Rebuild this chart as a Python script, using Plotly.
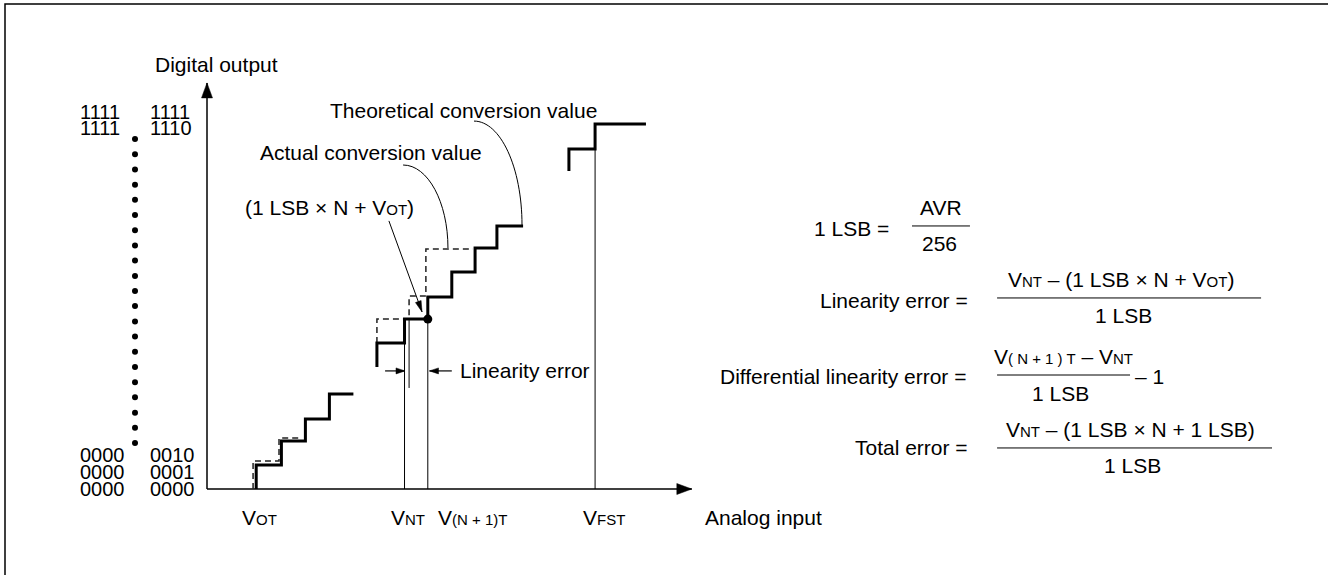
import math
import plotly.graph_objects as go

# ---------------- data: analog input in LSB units, digital output in code units ----------------
# thick solid staircase pieces (actual conversion characteristic)
actual_low_x = [2.05, 2.05, 3.1, 3.1, 4.1, 4.1, 5.1, 5.1, 6.1]
actual_low_y = [0, 1.0, 1.0, 2.0, 2.0, 2.92, 2.92, 3.96, 3.96]
actual_mid_x = [7.08, 7.08, 8.23, 8.23, 9.2, 9.2, 10.2, 10.2, 11.17, 11.17, 12.08, 12.08, 13.17]
actual_mid_y = [5.08, 6.08, 6.08, 7.08, 7.08, 8.0, 8.0, 9.04, 9.04, 10.04, 10.04, 10.96, 10.96]
actual_top_x = [15.08, 15.08, 16.17, 16.17, 18.29]
actual_top_y = [13.25, 14.17, 14.17, 15.21, 15.21]

# dashed staircase pieces (theoretical characteristic)
theo_low_x = [1.92, 1.92, 3.0, 3.0, 3.8]
theo_low_y = [0, 1.17, 1.17, 2.12, 2.12]
theo_mid_x = [7.08, 7.08, 8.42, 8.42, 9.12, 9.12, 11.08]
theo_mid_y = [6.08, 7.08, 7.08, 8.04, 8.04, 10.0, 10.0]

# thin reference lines: V_NT, V_(N+1)T, V_FST (from axis up to the step)
ref_line_x = [8.23, 9.2, 16.17]
ref_line_top = [7.08, 7.08, 14.17]
ext_line_x = 8.42
ext_line_y = [7.08, 4.21]

point_N = (9.2, 7.08)                 # (1 LSB x N + V_OT)
lin_err_y = 4.92
lin_err_left = (7.42, 8.25)           # tail, tip
lin_err_right = (10.2, 9.27)          # tail, tip
leader_tail = (7.58, 11.17)
leader_tip = (8.96, 7.38)
actual_leader = [(8.17, 13.5), (10.04, 10.04)]
theo_leader = [(11.125, 15.33), (13.125, 11.0)]

y_axis_top = 16.92
x_axis_end = 20.2

# output code labels (left and right column) and their rows
code_left = ["1111", "1111", "0000", "0000", "0000"]
code_right = ["1111", "1110", "0010", "0001", "0000"]
code_row_y = [15.71, 15.04, 1.42, 0.71, 0.0]
ellipsis_x = -3.0
ellipsis_y = [14.58, 13.95, 13.31, 12.68, 12.05, 11.42, 10.78, 10.15, 9.52, 8.88, 8.25,
              7.62, 6.98, 6.35, 5.72, 5.08, 4.45, 3.82, 3.18, 2.55, 1.92]

x_tick_labels = ["V<sub>OT</sub>", "V<sub>NT</sub>", "V<sub>(N + 1)T</sub>", "V<sub>FST</sub>"]
x_tick_label_x = [1.375, 7.6, 9.54, 15.6]

# formula block
frac_bar_x0 = [29.375, 32.92, 32.92, 32.92]
frac_bar_x1 = [31.79, 43.92, 38.46, 44.375]
frac_bar_y = [10.96, 7.96, 4.75, 1.71]

# ---------------- layout constants ----------------
W, H = 1328, 575
ORIGIN = (207, 489)       # pixel of axis origin
PX = 24.0                 # pixels per unit (both axes)
FONT = "Liberation Sans, Arial, Helvetica, sans-serif"
FS = 21
SUBFS = 15


def sub(s):
    return f'<span style="font-size:{SUBFS}px">{s}</span>'


def fix_sub(t):
    return t.replace("<sub>", f'<span style="font-size:{SUBFS}px">').replace("</sub>", "</span>")


fig = go.Figure()


def line(xs, ys, width=1.0, dash=None, color="black"):
    fig.add_trace(go.Scatter(x=xs, y=ys, mode="lines", hoverinfo="skip",
                             line=dict(color=color, width=width, dash=dash),
                             showlegend=False))


def arrowhead(tail, tip, length, width):
    dx, dy = tip[0] - tail[0], tip[1] - tail[1]
    n = math.hypot(dx, dy)
    ux, uy = dx / n, dy / n
    L, Wd = length / PX, width / PX / 2
    bx, by = tip[0] - ux * L, tip[1] - uy * L
    px_, py_ = -uy, ux
    xs = [tip[0], bx + px_ * Wd, bx - px_ * Wd, tip[0]]
    ys = [tip[1], by + py_ * Wd, by - py_ * Wd, tip[1]]
    fig.add_trace(go.Scatter(x=xs, y=ys, mode="lines", fill="toself", fillcolor="black",
                             line=dict(color="black", width=0.5), hoverinfo="skip",
                             showlegend=False))


def arrow(tail, tip, lw=1.0, length=9, width=6):
    line([tail[0], tip[0]], [tail[1], tip[1]], width=lw)
    arrowhead(tail, tip, length, width)


def label(x, y, text, xanchor="left", size=FS):
    fig.add_annotation(x=x, y=y, xref="x", yref="y", text=text, showarrow=False,
                       xanchor=xanchor, yanchor="middle",
                       font=dict(size=size, color="black", family=FONT))


def quarter_ellipse(p0, p1):
    # horizontal tangent at p0, vertical tangent at p1
    k = 0.5523
    c1 = (p0[0] + k * (p1[0] - p0[0]), p0[1])
    c2 = (p1[0], p1[1] + k * (p0[1] - p1[1]))
    return f"M {p0[0]},{p0[1]} C {c1[0]},{c1[1]} {c2[0]},{c2[1]} {p1[0]},{p1[1]}"


# axes with arrowheads
line([0, 0], [0, y_axis_top], width=1.5)
arrowhead((0, 0), (0, y_axis_top), 15, 11)
line([0, x_axis_end], [0, 0], width=1.5)
arrowhead((0, 0), (x_axis_end, 0), 15, 11)

# thin reference lines
for xv, top in zip(ref_line_x, ref_line_top):
    line([xv, xv], [0, top], width=1.0)
line([ext_line_x, ext_line_x], ext_line_y, width=1.0)

# theoretical (dashed) staircase
for xs, ys in ((theo_low_x, theo_low_y), (theo_mid_x, theo_mid_y)):
    line(xs, ys, width=1.5, dash="6px,4px", color="#222")

# actual (thick) staircase
for xs, ys in ((actual_low_x, actual_low_y), (actual_mid_x, actual_mid_y), (actual_top_x, actual_top_y)):
    line(xs, ys, width=3.0)

# point marker
fig.add_trace(go.Scatter(x=[point_N[0]], y=[point_N[1]], mode="markers", hoverinfo="skip",
                         marker=dict(size=9, color="black"), showlegend=False))

# linearity error dimension arrows
arrow((lin_err_left[0], lin_err_y), (lin_err_left[1], lin_err_y), lw=1.2, length=9, width=6)
arrow((lin_err_right[0], lin_err_y), (lin_err_right[1], lin_err_y), lw=1.2, length=9, width=6)

# leader arrow to point
arrow(leader_tail, leader_tip, lw=1.0, length=11, width=6)

# curved leaders
for p0, p1 in (actual_leader, theo_leader):
    fig.add_shape(type="path", xref="x", yref="y", path=quarter_ellipse(p0, p1),
                  line=dict(color="black", width=1.0))

# ellipsis dots
fig.add_trace(go.Scatter(x=[ellipsis_x] * len(ellipsis_y), y=ellipsis_y, mode="markers",
                         hoverinfo="skip", marker=dict(size=6, color="black"), showlegend=False))

# code labels
for lt, rt, yv in zip(code_left, code_right, code_row_y):
    label(-5.375, yv, lt, size=20)
    label(-2.46, yv, rt, size=20)

# text labels in chart
label(-2.25, 17.67, "Digital output")
label(5.04, 15.79, "Theoretical conversion value")
label(2.125, 14.04, "Actual conversion value")
label(1.5, 11.71, f"(1 LSB × N + V{sub('OT')})")
label(10.46, lin_err_y, "Linearity error")
for t, xv in zip(x_tick_labels, x_tick_label_x):
    label(xv, -1.2, fix_sub(t))
label(20.67, -1.2, "Analog input")

# formula block
bx, by = [], []
for a, b, yv in zip(frac_bar_x0, frac_bar_x1, frac_bar_y):
    bx += [a, b, None]
    by += [yv, yv, None]
line(bx, by, width=1.0)

label(28.5, 10.875, "1 LSB =", xanchor="right")
label(30.58, 11.75, "AVR", xanchor="center")
label(30.54, 10.21, "256", xanchor="center")

label(31.79, 7.875, "Linearity error =", xanchor="right")
label(38.08, 8.75, f"V{sub('NT')} – (1 LSB × N + V{sub('OT')})", xanchor="center")
label(38.17, 7.21, "1 LSB", xanchor="center")

label(31.71, 4.67, "Differential linearity error =", xanchor="right")
label(35.7, 5.54, f"V{sub('( N + 1 ) T')} – V{sub('NT')}", xanchor="center")
label(38.58, 4.67, "– 1")
label(35.58, 4.0, "1 LSB", xanchor="center")

label(31.79, 1.71, "Total error =", xanchor="right")
label(38.46, 2.46, f"V{sub('NT')} – (1 LSB × N + 1 LSB)", xanchor="center")
label(38.58, 1.0, "1 LSB", xanchor="center")

# outer frame (only the left and top edges fall inside the picture)
fig.add_shape(type="rect", xref="paper", yref="paper",
              x0=5 / W, x1=1.05, y0=-0.05, y1=1 - 4 / H,
              line=dict(color="black", width=1.5))

fig.update_layout(
    width=W, height=H, margin=dict(l=0, r=0, t=0, b=0),
    paper_bgcolor="white", plot_bgcolor="white", showlegend=False,
    xaxis=dict(range=[-ORIGIN[0] / PX, (W - ORIGIN[0]) / PX], visible=False, fixedrange=True),
    yaxis=dict(range=[(ORIGIN[1] - H) / PX, ORIGIN[1] / PX], visible=False, fixedrange=True),
)

fig.write_html(
    "out.html",
    config={"displayModeBar": False, "staticPlot": True},
    post_script="document.body.style.margin='0';document.body.style.overflow='hidden';",
)
